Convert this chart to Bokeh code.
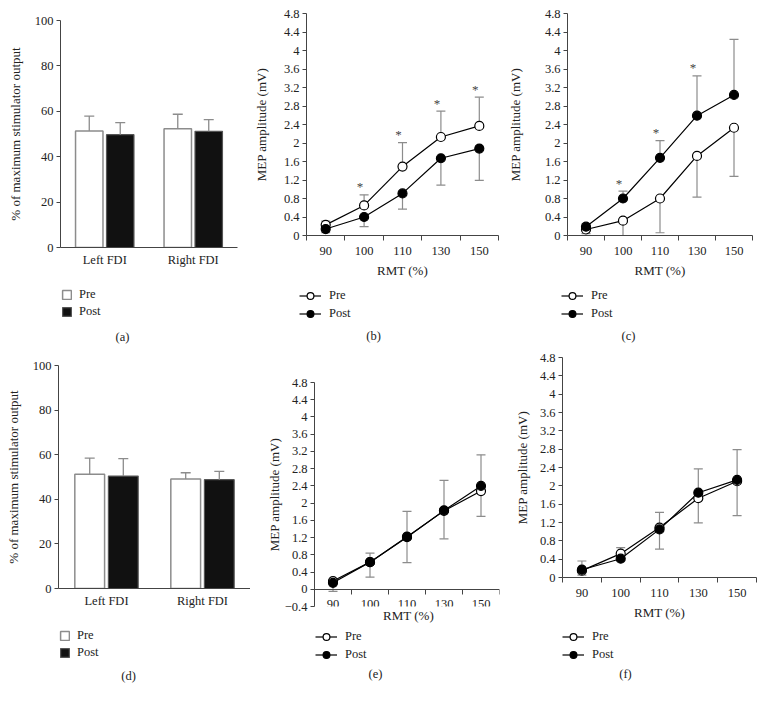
from bokeh.plotting import figure
from bokeh.models import (FactorRange, Range1d, FixedTicker, Legend, LegendItem,
                          Label, ColumnDataSource)
from bokeh.transform import dodge
from bokeh.layouts import column, row
from bokeh.embed import file_html
from bokeh.resources import INLINE
from bokeh.core.properties import value

FONT = "Liberation Serif"
TXT = "#222222"
AX = "#444444"
ERR = "#8c8c8c"
TICK_FS = "12.5px"
LAB_FS = "13px"
PRE_BAR = dict(fill_color="white", line_color="#8c8c8c", line_width=1.5)
POST_BAR = dict(fill_color="#111111", line_color="#555555", line_width=1.2)
PRE_MK = dict(marker="circle", fill_color="white", line_color="black", line_width=1.2)
POST_MK = dict(marker="circle", fill_color="black", line_color="black", line_width=1.2)

# ---------------- data ----------------
regions = ["Left FDI", "Right FDI"]
pct_ticks = [0, 20, 40, 60, 80, 100]

a_pre = [51.3, 52.3]
a_pre_sd = [6.6, 6.4]
a_post = [49.7, 51.2]
a_post_sd = [5.3, 5.1]

d_pre = [51.2, 49.1]
d_pre_sd = [7.3, 2.8]
d_post = [50.4, 48.8]
d_post_sd = [7.8, 3.7]

rmt = ["90", "100", "110", "130", "150"]
mep_ticks = [0, 0.4, 0.8, 1.2, 1.6, 2, 2.4, 2.8, 3.2, 3.6, 4, 4.4, 4.8]
mep_labels = ["0", "0.4", "0.8", "1.2", "1.6", "2", "2.4", "2.8", "3.2", "3.6", "4", "4.4", "4.8"]
e_ticks = [-0.4] + mep_ticks
e_labels = ["\u22120.4"] + mep_labels

b_pre = [0.23, 0.65, 1.49, 2.13, 2.37]
b_pre_sd = [0.08, 0.23, 0.52, 0.56, 0.62]
b_post = [0.14, 0.40, 0.91, 1.67, 1.88]
b_post_sd = [0.08, 0.21, 0.34, 0.58, 0.69]
b_sig = ["100", "110", "130", "150"]

c_pre = [0.13, 0.32, 0.80, 1.72, 2.33]
c_pre_sd = [0.09, 0.32, 0.74, 0.89, 1.05]
c_post = [0.19, 0.80, 1.68, 2.59, 3.04]
c_post_sd = [0.06, 0.16, 0.37, 0.86, 1.20]
c_sig = ["100", "110", "130"]

e_pre = [0.19, 0.63, 1.22, 1.82, 2.28]
e_pre_sd = [0.24, 0.35, 0.60, 0.65, 0.59]
e_post = [0.15, 0.63, 1.21, 1.83, 2.40]
e_post_sd = [0.06, 0.21, 0.60, 0.70, 0.72]

f_pre = [0.15, 0.52, 1.09, 1.73, 2.10]
f_pre_sd = [0.10, 0.15, 0.47, 0.54, 0.75]
f_post = [0.17, 0.41, 1.05, 1.85, 2.13]
f_post_sd = [0.19, 0.24, 0.37, 0.52, 0.66]

X_TITLE = "RMT (%)"


def no_align(p):
    if "frame_align" in p.properties():
        p.frame_align = False


def base_fig(W, H, borders, x_range, y_range):
    l, r, t, b = borders
    p = figure(width=W, height=H, x_range=x_range, y_range=y_range, title=None,
               output_backend="svg", toolbar_location=None,
               min_border_left=l, min_border_right=r,
               min_border_top=t, min_border_bottom=b)
    no_align(p)
    p.outline_line_color = None
    p.xgrid.visible = False
    p.ygrid.visible = False
    p.background_fill_color = "white"
    p.border_fill_color = "white"
    for ax in (p.xaxis[0], p.yaxis[0]):
        ax.axis_line_color = AX
        ax.major_tick_line_color = AX
        ax.minor_tick_line_color = AX
        ax.major_label_text_font = FONT
        ax.major_label_text_font_size = TICK_FS
        ax.major_label_text_color = TXT
        ax.axis_label_text_font = FONT
        ax.axis_label_text_font_size = LAB_FS
        ax.axis_label_text_font_style = "normal"
        ax.axis_label_text_color = TXT
        ax.major_tick_in = 0
        ax.minor_tick_in = 0
        ax.minor_tick_out = 0
    p.yaxis[0].major_tick_out = 4
    p.yaxis[0].major_label_standoff = 3
    return p


def text_label(q, text, x, y, size):
    q.add_layout(Label(x=x, y=y, x_units="screen", y_units="screen",
                       text=text, text_align="center", text_baseline="middle",
                       text_font=FONT, text_font_size=size, text_color=TXT))


def legend_fig(W, H, kind, pre, post, leg_xy, cap_text, cap_xy):
    """Key and panel caption, drawn below a panel (legend proxies are hidden copies)."""
    q = figure(width=W, height=H, x_axis_type=None, y_axis_type=None, title=None,
               output_backend="svg", toolbar_location=None,
               min_border_left=0, min_border_right=0,
               min_border_top=0, min_border_bottom=0)
    no_align(q)
    q.outline_line_color = None
    q.background_fill_alpha = 0
    q.border_fill_alpha = 0
    q.grid.visible = False
    xs = [i + 0.5 for i in range(len(pre))]
    if kind == "bar":
        r1 = q.vbar(x=xs, top=pre, width=0.3, visible=False, **PRE_BAR)
        r2 = q.vbar(x=xs, top=post, width=0.3, visible=False, **POST_BAR)
        items = [LegendItem(label="Pre", renderers=[r1]),
                 LegendItem(label="Post", renderers=[r2])]
        gw, gh, sp, so = 11, 11, 2, 7
    else:
        l1 = q.line(xs, pre, line_color="black", line_width=1.2, visible=False)
        m1 = q.scatter(xs, pre, size=9, visible=False, **PRE_MK)
        l2 = q.line(xs, post, line_color="black", line_width=1.2, visible=False)
        m2 = q.scatter(xs, post, size=9, visible=False, **POST_MK)
        items = [LegendItem(label="Pre", renderers=[l1, m1]),
                 LegendItem(label="Post", renderers=[l2, m2])]
        gw, gh, sp, so = 22, 17, 1, 8
    leg = Legend(items=items, location=leg_xy, orientation="vertical",
                 glyph_width=gw, glyph_height=gh, label_height=gh, spacing=sp,
                 padding=0, margin=0, border_line_color=None,
                 background_fill_alpha=0, label_standoff=so,
                 label_text_font=FONT, label_text_font_size=TICK_FS,
                 label_text_color=TXT)
    q.add_layout(leg)
    text_label(q, cap_text, cap_xy[0], cap_xy[1], TICK_FS)
    return q


def bar_panel(W, H, borders, pre, pre_sd, post, post_sd, ylab_standoff):
    p = base_fig(W, H, borders, FactorRange(*regions), Range1d(0, 100))
    src = ColumnDataSource(dict(
        region=regions, pre=pre, post=post,
        pre_top=[m + s for m, s in zip(pre, pre_sd)],
        post_top=[m + s for m, s in zip(post, post_sd)]))
    xpre = dodge("region", -0.175, range=p.x_range)
    xpost = dodge("region", 0.175, range=p.x_range)
    p.vbar(x=xpre, top="pre", bottom=0, width=0.31, source=src, **PRE_BAR)
    p.vbar(x=xpost, top="post", bottom=0, width=0.31, source=src, **POST_BAR)
    for xx, lo, hi in ((xpre, "pre", "pre_top"), (xpost, "post", "post_top")):
        p.segment(x0=xx, y0=lo, x1=xx, y1=hi, source=src, line_color=ERR, line_width=1.3)
        p.scatter(x=xx, y=hi, source=src, marker="dash", size=10,
                  line_color=ERR, line_width=1.3)
    p.yaxis[0].ticker = FixedTicker(ticks=pct_ticks)
    p.yaxis[0].axis_label = "% of maximum stimulator output"
    p.yaxis[0].axis_label_standoff = ylab_standoff
    p.xaxis[0].major_tick_out = 0
    p.xaxis[0].major_label_standoff = 5
    return p


def err(p, xs, mean, sd, direction):
    ends = [m + direction * s for m, s in zip(mean, sd)]
    p.segment(x0=xs, y0=mean, x1=xs, y1=ends, line_color=ERR, line_width=1.2)
    p.scatter(x=xs, y=ends, marker="dash", size=9, line_color=ERR, line_width=1.2)
    return ends


def line_panel(W, H, borders, yr, ticks, labels, pre, pre_sd, pre_dir,
               post, post_sd, post_dir, sig, ylab_standoff, xlab_standoff,
               xfixed=None, xlabel=X_TITLE):
    p = base_fig(W, H, borders, Range1d(0, len(rmt)), Range1d(*yr))
    xs = [i + 0.5 for i in range(len(rmt))]
    pre_end = err(p, xs, pre, pre_sd, pre_dir)
    post_end = err(p, xs, post, post_sd, post_dir)
    p.line(xs, pre, line_color="black", line_width=1.2)
    p.line(xs, post, line_color="black", line_width=1.2)
    p.scatter(xs, pre, size=9, **PRE_MK)
    p.scatter(xs, post, size=9, **POST_MK)
    if sig:
        idx = [rmt.index(s) for s in sig]
        sx = [xs[i] for i in idx]
        sy = [max(pre_end[i], post_end[i]) for i in idx]
        p.text(x=sx, y=sy, text=["*"] * len(sx), text_font=value(FONT),
               text_font_size="13px", text_color="#444444",
               text_align="center", text_baseline="middle",
               x_offset=-4, y_offset=-8)
    xa = p.xaxis[0]
    xa.ticker = FixedTicker(ticks=xs, minor_ticks=list(range(len(rmt) + 1)))
    xa.major_label_overrides = {x: lab for x, lab in zip(xs, rmt)}
    xa.major_tick_out = 0
    xa.minor_tick_out = 5
    xa.major_label_standoff = 6
    if xlabel:
        xa.axis_label = xlabel
        xa.axis_label_standoff = xlab_standoff
    if xfixed is not None:
        xa.fixed_location = xfixed
    ya = p.yaxis[0]
    ya.ticker = FixedTicker(ticks=ticks)
    ya.major_label_overrides = {t: lab for t, lab in zip(ticks, labels)}
    ya.axis_label = "MEP amplitude (mV)"
    ya.axis_label_standoff = ylab_standoff
    return p


# ---- row 1 ----
pa = bar_panel(250, 280, (60, 13, 20, 33), a_pre, a_pre_sd, a_post, a_post_sd, 9)
la = legend_fig(250, 66, "bar", a_pre, a_post, (61, 27), "(a)", (122, 10))
pb = line_panel(254, 280, (49, 6, 13, 44), (0, 4.8), mep_ticks, mep_labels,
                b_pre, b_pre_sd, 1, b_post, b_post_sd, -1, b_sig, 12, 5)
lb = legend_fig(254, 66, "line", b_pre, b_post, (49, 24.5), "(b)", (123, 11))
pc = line_panel(260, 280, (57, 12, 13, 44), (0, 4.8), mep_ticks, mep_labels,
                c_pre, c_pre_sd, -1, c_post, c_post_sd, 1, c_sig, 19, 5)
lc = legend_fig(260, 66, "line", c_pre, c_post, (57, 24.5), "(c)", (124, 11))

# ---- row 2 ----
pd = bar_panel(250, 280, (58, 0, 19, 38), d_pre, d_pre_sd, d_post, d_post_sd, 9)
ld = legend_fig(250, 72, "bar", d_pre, d_post, (59, 38), "(d)", (128, 23))
# panel (e): x axis crosses at 0 while the y axis runs down to -0.4
pe = line_panel(254, 297, (64, 5, 36, 37), (-0.4, 4.8), e_ticks, e_labels,
                e_pre, e_pre_sd, -1, e_post, e_post_sd, 1, [], 0, 0,
                xfixed=0, xlabel=None)
le = legend_fig(254, 94, "line", e_pre, e_post, (65, 35.5), "(e)", (125, 25))
le.margin = (-39, 0, 0, 0)
text_label(le, X_TITLE, 158, 83, LAB_FS)
pf = line_panel(260, 280, (58, 8, 11, 49), (0, 4.8), mep_ticks, mep_labels,
                f_pre, f_pre_sd, -1, f_post, f_post_sd, 1, [], 7, 5)
lf = legend_fig(260, 72, "line", f_pre, f_post, (58, 35.5), "(f)", (121, 25))

layout = column(row(column(pa, la), column(pb, lb), column(pc, lc)),
                row(column(pd, ld), column(pe, le), column(pf, lf)))
open("out.html", "w").write(file_html(layout, INLINE))
